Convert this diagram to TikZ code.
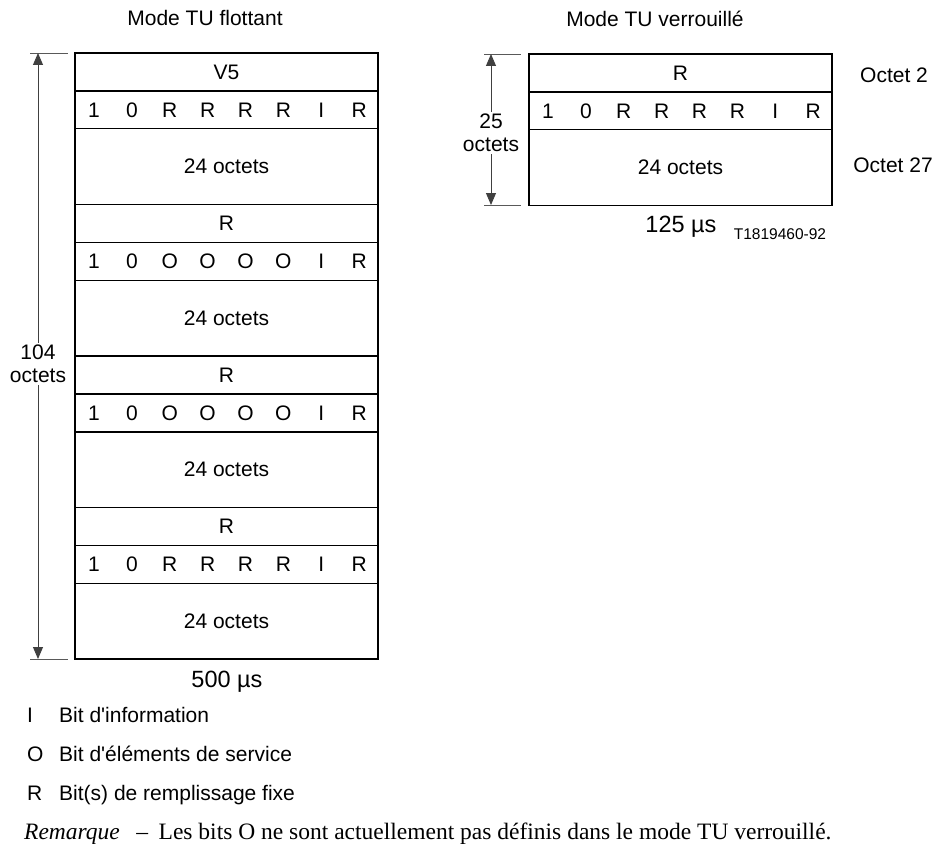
\documentclass[tikz,border=0pt]{standalone}
\usepackage{fontspec}
\setmainfont{Liberation Sans}
\newfontfamily\remfont{Liberation Serif}
\usetikzlibrary{arrows.meta, positioning}
\tikzset{
  % The 'cell' style is the common frame of one row of a TU
  cell/.style={draw=black, line width=1.4pt, minimum width=303pt, inner sep=0pt, outer sep=0pt, anchor=north west, font=\fontsize{21}{24}\selectfont},
  % The 'hdr-row' style is the one-octet row (V5 or R)
  hdr-row/.style={cell, minimum height=37.9pt},
  % The 'bits-row' style is the octet split into eight bits
  bits-row/.style={cell, minimum height=37.9pt},
  % The 'data-row' style is the 24-octet payload row
  data-row/.style={cell, minimum height=75.7pt},
  % The 'bit' style is one bit letter inside a bits row
  bit/.style={font=\fontsize{21}{24}\selectfont, inner sep=0pt},
  % The 'span-arrow' style is the double arrow giving the TU length
  span-arrow/.style={draw=black!75, line width=0.9pt, {Triangle[length=12pt,width=10pt]}-{Triangle[length=12pt,width=10pt]}},
  % The 'tick' style is the short limit line at each end of the span
  tick/.style={draw=black!65, line width=0.9pt},
  % The 'span-text' style is the length label over the arrow
  span-text/.style={fill=white, align=center, inner sep=2pt, font=\fontsize{21}{23}\selectfont},
  % The 'plain-text' style is for titles, times and octet numbers
  plain-text/.style={inner sep=0pt, font=\fontsize{21}{24}\selectfont},
  % The 'legend-text' style is for the key under the drawing
  legend-text/.style={inner sep=0pt, anchor=base west, font=\fontsize{21}{24}\selectfont}
}

\begin{document}
\begin{tikzpicture}[x=1pt, y=-1pt]
  \useasboundingbox (0,0) rectangle (936,845);

  % Titles
  \node[plain-text] (title-float) at (205,18) {Mode TU flottant};
  \node[plain-text] (title-lock) at (655,19) {Mode TU verrouillé};

  % Floating mode: four blocks of header, bits and 24 octets
  \foreach \lbl/\bits [count=\i from 0] in {V5/{1,0,R,R,R,R,I,R}, R/{1,0,O,O,O,O,I,R}, R/{1,0,O,O,O,O,I,R}, R/{1,0,R,R,R,R,I,R}} {
    \node[hdr-row] (hdr-\i) at (75,{53+\i*151.5}) {\lbl};
    \node[bits-row] (bits-\i) at (hdr-\i.south west) {};
    \node[data-row] (data-\i) at (bits-\i.south west) {24 octets};
    \foreach \c [count=\k] in \bits
      \node[bit, xshift={\k*37.875pt-18.9pt}] (bit-\i-\k) at (bits-\i.west) {\c};
  }

  % Floating mode: length arrow
  \coordinate (float-top) at (30,53);
  \coordinate (float-bot) at (30,659);
  \draw[tick] (float-top) -- ++(38,0);
  \draw[tick] (float-bot) -- ++(38,0);
  \draw[span-arrow] ([xshift=8pt]float-bot) -- ([xshift=8pt]float-top);
  \node[span-text] (float-len) at (38,364) {104\\octets};
  \node[plain-text, font=\fontsize{23.5}{26}\selectfont] (float-time) at (227,682) {500 µs};

  % Locked mode: one block
  \node[hdr-row] (hdr-L) at (529,54) {R};
  \node[bits-row] (bits-L) at (hdr-L.south west) {};
  \node[data-row] (data-L) at (bits-L.south west) {24 octets};
  \foreach \c [count=\k] in {1,0,R,R,R,R,I,R}
    \node[bit, xshift={\k*37.875pt-18.9pt}] (bit-L-\k) at (bits-L.west) {\c};

  % Locked mode: length arrow and labels
  \coordinate (lock-top) at (484,54);
  \coordinate (lock-bot) at (484,205);
  \draw[tick] (lock-top) -- ++(37,0);
  \draw[tick] (lock-bot) -- ++(37,0);
  \draw[span-arrow] ([xshift=7pt]lock-bot) -- ([xshift=7pt]lock-top);
  \node[span-text] (lock-len) at (491,133) {25\\octets};
  \node[plain-text] (octet-2) at (894,75) {Octet 2};
  \node[plain-text] (octet-27) at (893,165) {Octet 27};
  \node[plain-text, font=\fontsize{23.5}{26}\selectfont] (lock-time) at (681,227) {125 µs};
  \node[plain-text, font=\fontsize{15.5}{18}\selectfont] (fig-ref) at (780,234) {T1819460-92};

  % Key
  \node[legend-text] (key-i) at (27,722.5) {I};
  \node[legend-text] (key-i-txt) at (59,722.5) {Bit d\textquotesingle information};
  \node[legend-text] (key-o) at (27,761.5) {O};
  \node[legend-text] (key-o-txt) at (59,761.5) {Bit d\textquotesingle éléments de service};
  \node[legend-text] (key-r) at (27,800.5) {R};
  \node[legend-text] (key-r-txt) at (59,800.5) {Bit(s) de remplissage fixe};
  \node[legend-text, font=\remfont\fontsize{23.5}{26}\selectfont] (remark) at (24,839.5)
    {\textit{Remarque}\hspace{0.7em}–\hspace{0.45em}Les bits O ne sont actuellement pas définis dans le mode TU verrouillé.};

\end{tikzpicture}
\end{document}
